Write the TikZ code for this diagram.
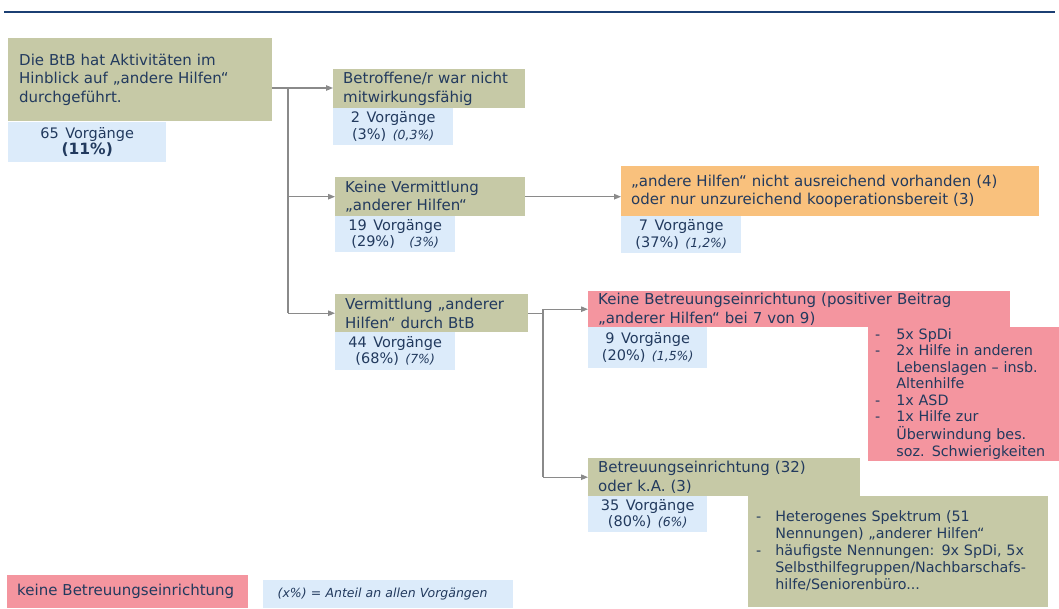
\documentclass[tikz,border=0pt]{standalone}
\usepackage{fontspec}
\setmainfont{DejaVu Sans}[WordSpace=1.4]
\usetikzlibrary{arrows.meta}

\definecolor{boxgreen}{HTML}{C6C9A6}
\definecolor{boxblue}{HTML}{DCEBFA}
\definecolor{boxorange}{HTML}{F9C17D}
\definecolor{boxpink}{HTML}{F4959F}
\definecolor{txtblue}{HTML}{223A5E}
\definecolor{linegray}{HTML}{8A8A8A}
\definecolor{rulenavy}{HTML}{1B3F73}

\tikzset{
    box/.style={anchor=north west, inner ysep=0pt, inner xsep=10pt, align=left,
        text=txtblue, font=\fontsize{15}{18.5}\selectfont},
    greenbox/.style={box, fill=boxgreen},
    pinkbox/.style={box, fill=boxpink},
    orangebox/.style={box, fill=boxorange},
    countbox/.style={anchor=north west, inner sep=0pt, align=center, fill=boxblue,
        text=txtblue, font=\fontsize{14.5}{16.5}\selectfont},
    link/.style={draw=linegray, line width=1.1pt},
    arrow/.style={link, -{Triangle[length=7pt,width=5.5pt]}}
}

\newcommand{\share}[1]{{\fontsize{12.5}{16}\itshape #1}}

\begin{document}
\begin{tikzpicture}[x=1pt,y=-1pt]
    \useasboundingbox (0,0) rectangle (1059,608);

    % head rule
    \draw[rulenavy, line width=2pt] (4,12) -- (1055,12);

    % starting point
    \node[greenbox, minimum width=264, minimum height=83, text width=242, inner xsep=11pt] (start) at (8,38)
        {Die BtB hat Aktivitäten im\\Hinblick auf „andere Hilfen“\\durchgeführt.};
    \node[countbox, minimum width=158, minimum height=40] (startn) at (8,122)
        {65 Vorgänge\\{\fontsize{15.5}{17}\bfseries(11\%)}};

    % first level
    \node[greenbox, minimum width=192, minimum height=39, text width=172] (unfit) at (333,69)
        {Betroffene/r war nicht\\mitwirkungsfähig};
    \node[countbox, minimum width=120, minimum height=37] (unfitn) at (333,108)
        {2 Vorgänge\\(3\%) \share{(0,3\%)}};

    \node[greenbox, minimum width=190, minimum height=39, text width=170] (none) at (335,177)
        {Keine Vermittlung\\„anderer Hilfen“};
    \node[countbox, minimum width=120, minimum height=36] (nonen) at (335,216)
        {19 Vorgänge\\(29\%)\quad\share{(3\%)}};

    \node[greenbox, minimum width=193, minimum height=38, text width=173] (via) at (335,294)
        {Vermittlung „anderer\\Hilfen“ durch BtB};
    \node[countbox, minimum width=120, minimum height=38] (vian) at (335,332)
        {44 Vorgänge\\(68\%) \share{(7\%)}};

    % no placement
    \node[orangebox, minimum width=418, minimum height=50, text width=398] (lack) at (621,166)
        {„andere Hilfen“ nicht ausreichend vorhanden (4)\\oder nur unzureichend kooperationsbereit (3)};
    \node[countbox, minimum width=120, minimum height=37] (lackn) at (621,216)
        {7 Vorgänge\\(37\%) \share{(1,2\%)}};

    % second level
    \node[pinkbox, minimum width=422, minimum height=36, text width=402] (nofac) at (588,291)
        {Keine Betreuungseinrichtung (positiver Beitrag\\„anderer Hilfen“ bei 7 von 9)};
    \node[countbox, minimum width=119, minimum height=41] (nofacn) at (588,327)
        {9 Vorgänge\\(20\%) \share{(1,5\%)}};
    \node[pinkbox, minimum width=191, minimum height=134, text width=177, inner xsep=7pt,
          font=\fontsize{14.3}{16.5}\selectfont] (nofacl) at (868,327)
        {\begin{tabular}{@{}l@{\hspace{16pt}}l@{}}
            - & 5x SpDi\\
            - & 2x Hilfe in anderen\\
              & Lebenslagen – insb.\\
              & Altenhilfe\\
            - & 1x ASD\\
            - & 1x Hilfe zur\\
              & Überwindung bes.\\
              & soz. Schwierigkeiten
        \end{tabular}};

    \node[greenbox, minimum width=272, minimum height=38, text width=252] (fac) at (588,458)
        {Betreuungseinrichtung (32)\\oder k.A. (3)};
    \node[countbox, minimum width=119, minimum height=36] (facn) at (588,496)
        {35 Vorgänge\\(80\%) \share{(6\%)}};
    \node[greenbox, minimum width=300, minimum height=111, text width=284, inner xsep=8pt,
          font=\fontsize{14.3}{17}\selectfont] (facl) at (748,496)
        {\begin{tabular}{@{}l@{\hspace{14pt}}l@{}}
            - & Heterogenes Spektrum (51\\
              & Nennungen) „anderer Hilfen“\\
            - & häufigste Nennungen: 9x SpDi, 5x\\
              & Selbsthilfegruppen/Nachbarschafs-\\
              & hilfe/Seniorenbüro...
        \end{tabular}\\[10pt]};

    % legend
    \node[pinkbox, minimum width=241, minimum height=33, text width=221] (keypink) at (7,575)
        {keine Betreuungseinrichtung};
    \node[countbox, minimum width=250, minimum height=28, align=left, text width=221,
          font=\fontsize{12.5}{14}\itshape] (keyblue) at (263,580)
        {(x\%) = Anteil an allen Vorgängen};

    % branch 1
    \coordinate (j1) at (288,88);
    \coordinate (j2) at (543,313);
    \draw[link] (start.east |- j1) -- (j1) -- (j1 |- via.west);
    \draw[arrow] (j1) -- (j1 -| unfit.west);
    \draw[arrow] (j1 |- none.west) -- (none.west);
    \draw[arrow] (j1 |- via.west) -- (via.west);

    % branch 2
    \draw[arrow] (none.east) -- (none.east -| lack.west);

    % branch 3
    \draw[link] (via.east) -- (via.east -| j2);
    \draw[link] (j2 |- nofac.west) -- (j2 |- fac.west);
    \draw[arrow] (j2 |- nofac.west) -- (nofac.west);
    \draw[arrow] (j2 |- fac.west) -- (fac.west);
\end{tikzpicture}
\end{document}
